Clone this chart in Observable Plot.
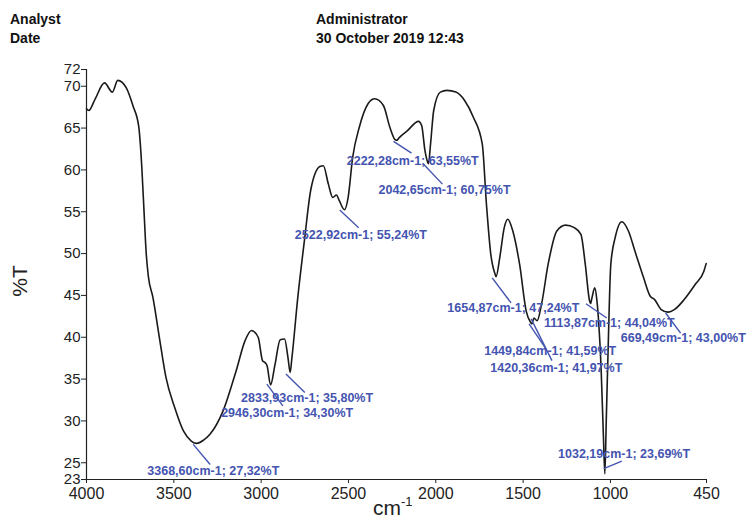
<!DOCTYPE html>
<html><head><meta charset="utf-8">
<script src="https://cdn.jsdelivr.net/npm/d3@7"></script>
<script src="https://cdn.jsdelivr.net/npm/@observablehq/plot@0.6"></script>
<style>body{margin:0;background:#fff} #chart{width:750px;height:518px}</style>
</head><body><div id="chart"></div>
<script>
// Spectrum (wavenumber cm-1, %T)
const wavenumber = [4000,3987,3950,3897,3852,3821,3772,3733,3701,3683,3671,3658,3646,3620,3583,3545,3495,3445,3400,3369,3330,3293,3218,3143,3092,3055,3017,2992,2979,2966,2946,2921,2891,2866,2846,2834,2824,2790,2752,2716,2664,2644,2615,2590,2569,2552,2523,2502,2476,2438,2388,2350,2300,2263,2232,2222,2212,2162,2099,2081,2062,2046,2042,2030,2012,1974,1936,1885,1835,1785,1734,1710,1685,1660,1655,1634,1608,1588,1559,1520,1482,1458,1450,1438,1420,1395,1357,1307,1257,1207,1169,1144,1119,1114,1106,1090,1078,1068,1053,1040,1032,1024,1014,998,973,935,897,860,810,772,747,709,672,669,634,578,515,465,452];
const transmittance = [67.3,67.1,68.5,70.4,69.3,70.7,69.8,67.6,65.2,60.2,55.2,50,47.3,44.8,40,35.2,31.6,28.8,27.6,27.32,27.7,28.4,31.2,36,39.6,40.8,40,37.2,37.0,36.6,34.3,36.7,39.7,39.8,37.5,35.8,37.5,44.8,51.6,57.6,60.4,60.5,58.3,56.7,57.0,56.3,55.24,56.7,61.5,65.1,67.9,68.5,67.7,65.1,63.6,63.55,63.8,64.7,65.8,65.3,62.3,60.9,60.75,63.1,67.1,69.3,69.5,69.3,68.3,66.3,63.1,55.9,49.9,47.5,47.24,49.5,53.1,54.1,52.7,48.7,43.1,41.8,41.59,42.3,41.97,43.9,48.7,52.7,53.4,53.1,52.3,48.7,44.3,44.04,44.7,45.9,44.5,42,36,28,23.69,30,38,48.7,51.9,53.8,52.7,50.3,47.1,44.9,44.5,43.3,43.0,43.0,43.3,44.5,46.3,47.9,48.8];

// Labelled peaks
const peakWn = [3368.60, 2946.30, 2833.93, 2522.92, 2222.28, 2042.65, 1654.87, 1449.84, 1420.36, 1113.87, 1032.19, 669.49];
const peakT  = [27.32, 34.30, 35.80, 55.24, 63.55, 60.75, 47.24, 41.59, 41.97, 44.04, 23.69, 43.00];

// Ticks
const xTicks = [4000, 3500, 3000, 2500, 2000, 1500, 1000, 450];
const yTicks = [23, 25, 30, 35, 40, 45, 50, 55, 60, 65, 70, 72];

// Header texts
const headerLabels = ["Analyst", "Date"];
const headerValues = ["Administrator", "30 October 2019 12:43"];

// Annotation layout (data coordinates): label start, leader start, leader end
const labelPos   = [[3652,24.0],[3229,30.9],[3115,32.7],[2807,52.2],[2510,61.1],[2328,57.6],[1934,43.5],[1723,38.3],[1688,36.3],[1380,41.7],[1300,26.0],[941,39.9]];
const leaderFrom = [[3389,27.2],[2967,34.4],[2858,35.6],[2550,55.2],[2242,63.4],[2071,60.7],[1677,47.1],[1466,41.6],[1454,42.2],[1140,44.0],[1038,24.3],[684,42.9]];
const leaderTo   = [[3292,24.8],[2876,31.8],[2750,33.4],[2442,53.1],[2139,62.0],[1962,58.3],[1569,44.1],[1369,38.6],[1335,37.2],[1021,42.3],[935,25.2],[598,40.5]];

const spectrum = wavenumber.map((w, i) => ({w, t: transmittance[i]}));
const fmt = v => v.toFixed(2).replace(".", ",");
const peaks = peakWn.map((w, i) => ({
  text: `${fmt(w)}cm-1; ${fmt(peakT[i])}%T`,
  lx: labelPos[i][0], ly: labelPos[i][1],
  x1: leaderFrom[i][0], y1: leaderFrom[i][1], x2: leaderTo[i][0], y2: leaderTo[i][1]
}));

const blue = "#4454b0";
const font = "'Liberation Sans', Arial, sans-serif";

const chart = Plot.plot({
  width: 750, height: 518,
  marginLeft: 86, marginRight: 44, marginTop: 69, marginBottom: 39,
  style: {fontFamily: font, background: "#fff", color: "#222"},
  x: {domain: [4000, 450], ticks: xTicks},
  y: {domain: [23, 72], ticks: yTicks},
  marks: [
    Plot.axisY(yTicks, {tickSize: 5, tickPadding: 1, fontSize: 15, label: null, stroke: "#222"}),
    Plot.axisX(xTicks, {tickSize: 4, tickPadding: 4, fontSize: 16, label: null, tickFormat: d => String(d), stroke: "#222"}),
    Plot.ruleX([4000], {stroke: "#222", strokeWidth: 1.2}),
    Plot.ruleY([23], {stroke: "#222", strokeWidth: 1.2}),
    Plot.line(spectrum, {x: "w", y: "t", curve: "monotone-x", stroke: "#1a1a1a", strokeWidth: 1.6}),
    Plot.link(peaks, {x1: "x1", y1: "y1", x2: "x2", y2: "y2", stroke: blue, strokeWidth: 1.4}),
    Plot.text(peaks, {x: "lx", y: "ly", text: "text", textAnchor: "start", fill: blue, fontSize: 12.5, fontWeight: 600})
  ]
});
document.getElementById("chart").appendChild(chart);

const svg = d3.select(chart);
const hdr = svg.append("g").attr("font-family", font).attr("font-weight", "bold")
  .attr("font-size", 14).attr("fill", "#111").attr("text-anchor", "start");
headerLabels.forEach((t, i) => hdr.append("text").attr("x", 10).attr("y", 24 + i * 19).text(t));
headerValues.forEach((t, i) => hdr.append("text").attr("x", 316).attr("y", 24 + i * 19).text(t));

svg.append("text").attr("font-family", font).attr("font-size", 21).attr("fill", "#222")
  .attr("text-anchor", "middle").attr("transform", "translate(27,281) rotate(-90)").text("%T");
const xl = svg.append("text").attr("font-family", font).attr("font-size", 21).attr("fill", "#222")
  .attr("text-anchor", "start").attr("x", 373).attr("y", 515);
xl.append("tspan").text("cm");
xl.append("tspan").attr("font-size", 13).attr("dy", -9).text("-1");
</script>
</body></html>
